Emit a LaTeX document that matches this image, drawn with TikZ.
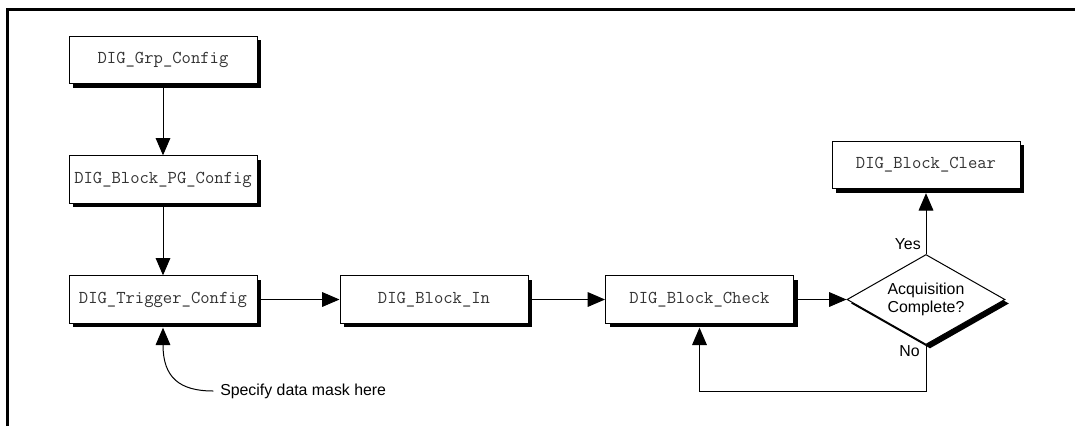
\documentclass[tikz,border=0pt]{standalone}
\usepackage{fontspec}
\setmainfont{Liberation Sans}
\usetikzlibrary{shapes.geometric,shadows,arrows.meta}
\begin{document}
\begin{tikzpicture}[x=0.75pt,y=-0.75pt,
  shad/.style={drop shadow={shadow xshift=3pt,shadow yshift=-3pt,fill=black,opacity=1}},
  box/.style={draw, line width=0.75pt, fill=white, inner sep=0pt,
    minimum width=141pt, minimum height=35.5pt, shad,
    font=\fontsize{13.6}{15}\selectfont\ttfamily, text=black!80},
  dia/.style={diamond, draw, line width=0.75pt, fill=white, aspect=1.76, inner sep=0pt,
    minimum width=118.5pt, minimum height=67.5pt, align=center, shad,
    font=\fontsize{11.9}{13.5}\selectfont},
  lbl/.style={inner sep=0pt, font=\fontsize{11.9}{14}\selectfont},
  arr/.style={-{Triangle[length=13pt,width=11pt]}, line width=0.75pt}
]
\useasboundingbox (0,0) rectangle (1075,426);
\draw[line width=2pt] (7.5,426) -- (7.5,9.5) -- (1075,9.5);

\node[box] (grp) at (163,60) {DIG\_Grp\_Config};
\node[box] (pg) at (163,179.5) {DIG\_Block\_PG\_Config};
\node[box] (trig) at (163,299.5) {DIG\_Trigger\_Config};
\node[box] (in) at (434,299.5) {DIG\_Block\_In};
\node[box] (check) at (699.5,299.5) {DIG\_Block\_Check};
\node[dia] (acq) at (926,299.5) {Acquisition\\Complete?};
\node[box] (clear) at (926,165) {DIG\_Block\_Clear};

\node[lbl, anchor=east] (yes) at (921,244) {Yes};
\node[lbl, anchor=east] (no) at (920,351) {No};
\node[lbl, anchor=west] (mask) at (220,391) {Specify data mask here};
\coordinate (mstart) at ([xshift=-5pt]mask.west);
\coordinate (loop) at (926,391);

\draw[arr] (grp) -- (pg);
\draw[arr] (pg) -- (trig);
\draw[arr] (trig) -- (in);
\draw[arr] (in) -- (check);
\draw[arr] (check) -- (acq);
\draw[arr, shorten >=3pt] (acq.north) -- (clear.south);
\draw[arr, shorten >=3pt] (acq.south) -- (loop) -| (check.south);
\draw[arr, shorten >=3pt] (mstart) .. controls (180,391) and (163,378) .. (trig.south);
\end{tikzpicture}
\end{document}
